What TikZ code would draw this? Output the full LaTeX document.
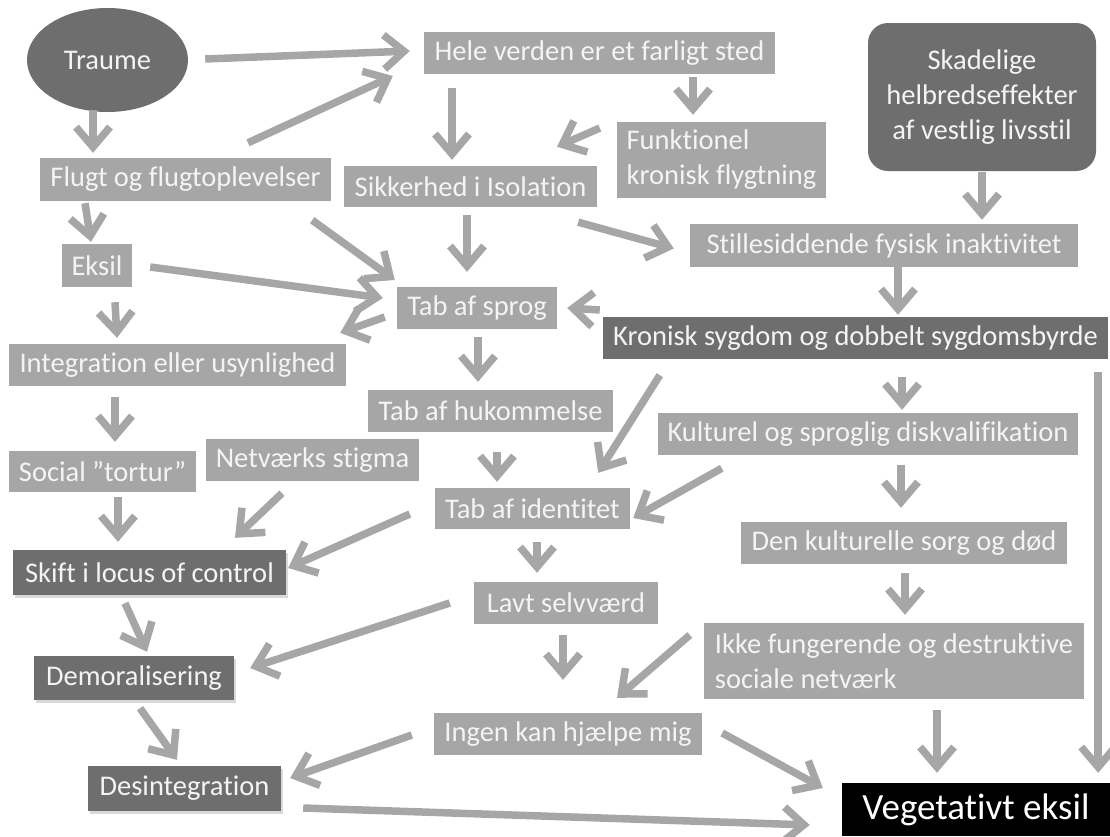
\documentclass[tikz,border=0pt]{standalone}
\usepackage{fontspec}
\setmainfont{Carlito}[Ligatures=NoCommon]
\usetikzlibrary{arrows.meta,shapes.geometric,shadows}
\definecolor{boxlight}{HTML}{A6A6A6}
\definecolor{boxdark}{HTML}{6E6E6E}
\definecolor{arrowgray}{HTML}{A6A6A6}
\definecolor{labeltext}{HTML}{F4F4F4}
\begin{document}
\begin{tikzpicture}[x=1pt,y=-1pt,
  lbox/.style={fill=boxlight, text=labeltext, inner sep=0pt, font=\fontsize{28.5}{35}\selectfont},
  dbox/.style={lbox, fill=boxdark},
  sbox/.style={dbox, drop shadow={shadow xshift=1.5pt, shadow yshift=-2.5pt, opacity=0.3}},
  sz/.style 2 args={minimum width=#1pt, minimum height=#2pt},
  arr/.style={draw=arrowgray, line width=7.5pt, -{Straight Barb[length=20pt,width=34pt]}},
]
\useasboundingbox (0,0) rectangle (1110,836);

% ---- nodes ----
\node[dbox, ellipse, sz={161}{104}] (traume) at (107.5,60) {Traume};
\node[lbox, sz={291}{43}] (flugt) at (185.5,179.5) {Flugt og flugtoplevelser};
\node[lbox, sz={351}{42}] (hele) at (599.5,53) {Hele verden er et farligt sted};
\node[lbox, sz={209}{76}, align=left] (funk) at (721.5,160) {Funktionel\\kronisk flygtning};
\node[lbox, sz={253}{41}] (sikker) at (470.5,186.5) {Sikkerhed i Isolation};
\node[dbox, rounded corners=20pt, sz={228}{148}, align=center] (skad) at (982,97) {Skadelige\\helbredseffekter\\af vestlig livsstil};
\node[lbox, sz={388}{43}] (still) at (884,245.5) {Stillesiddende fysisk inaktivitet};
\node[dbox, sz={505}{42}] (kron) at (855.5,338) {Kronisk sygdom og dobbelt sygdomsbyrde};
\node[lbox, sz={70}{43}] (eksil) at (97,265.5) {Eksil};
\node[lbox, sz={160}{42}] (sprog) at (477,308) {Tab af sprog};
\node[lbox, sz={337}{42}] (integ) at (177.5,365) {Integration eller usynlighed};
\node[lbox, sz={245}{42}] (huk) at (490.5,411) {Tab af hukommelse};
\node[lbox, sz={420}{42}] (kult) at (868,434) {Kulturel og sproglig diskvalifikation};
\node[lbox, sz={187}{41}] (social) at (102.5,471.5) {Social ”tortur”};
\node[lbox, sz={213}{42}] (netv) at (312.5,460) {Netværks stigma};
\node[lbox, sz={195}{41}] (ident) at (532.5,508.5) {Tab af identitet};
\node[lbox, sz={326}{42}] (sorg) at (904,543) {Den kulturelle sorg og død};
\node[sbox, sz={273}{45}] (skift) at (149.5,572.5) {Skift i locus of control};
\node[lbox, sz={184}{42}] (lavt) at (566,603) {Lavt selvværd};
\node[lbox, sz={380}{76}, align=left] (ikke) at (894,661) {Ikke fungerende og destruktive\\sociale netværk};
\node[sbox, sz={200}{44}] (demo) at (134,678) {Demoralisering};
\node[lbox, sz={268}{42}] (ingen) at (568,734) {Ingen kan hjælpe mig};
\node[sbox, sz={193}{45}] (desint) at (184.5,788.5) {Desintegration};
\node[fill=black, text=white, inner sep=0pt, font=\fontsize{37}{44}\selectfont, sz={268}{53}] (veg) at (976,809.5) {Vegetativt eksil};

% ---- connectors ----
\draw[arr] ([shift={(17,-1)}]traume.east) -- ([shift={(-14,-2)}]hele.west);
\draw[arr] ([shift={(-14.5,-2)}]traume.south) -- ([shift={(-92.5,-5)}]flugt.north);
\draw[arr] ([shift={(62.5,-15)}]flugt.north) -- ([shift={(-31,23)}]hele.west);
\draw[arr] ([shift={(-147.5,14)}]hele.south) -- ([shift={(-18.5,-6)}]sikker.north);
\draw[arr] ([shift={(93.5,3)}]hele.south) -- ([shift={(-28.5,-7)}]funk.north);
\draw[arr] ([shift={(-17,-32)}]funk.west) -- ([shift={(86.5,-19)}]sikker.north);
\draw[arr] ([shift={(0,1)}]skad.south) -- ([shift={(98,-4)}]still.north);
\draw[arr] ([shift={(-19,15)}]sikker.south east) -- ([shift={(-16,3)}]still.west);
\draw[arr] ([shift={(14,0)}]still.south) -- ([shift={(42.5,-2)}]kron.north);
\draw[arr] ([shift={(-3,-28)}]kron.west) -- ([shift={(10,0)}]sprog.east);
\draw[arr] ([shift={(-3.5,8)}]sikker.south) -- ([shift={(-10,-15)}]sprog.north);
\draw[arr] ([shift={(-19,19)}]flugt.south east) -- ([shift={(-2,-28)}]sprog.west);
\draw[arr] ([shift={(18,1.5)}]eksil.east) -- ([shift={(-14,-10)}]sprog.west);
\draw[arr] ([shift={(-12,9)}]sprog.west) -- ([shift={(-6,-11)}]integ.north east);
\draw[arr] ([shift={(1,8)}]sprog.south) -- ([shift={(-12.5,-8)}]huk.north);
\draw[arr] ([shift={(6.5,20)}]huk.south) -- ([shift={(-35.5,-6)}]ident.north);
\draw[arr] ([shift={(57,16)}]kron.south west) -- ([shift={(-32,-15)}]ident.north east);
\draw[arr] ([shift={(64,13)}]kult.south west) -- ([shift={(3,9.5)}]ident.east);
\draw[arr] ([shift={(46.5,18)}]kron.south) -- ([shift={(34,-3)}]kult.north);
\draw[arr] ([shift={(33,10)}]kult.south) -- ([shift={(-3,-14)}]sorg.north);
\draw[arr] ([shift={(-10,13)}]kron.south east) -- ([shift={(-12,-10)}]veg.north east);
\draw[arr] ([shift={(1,9)}]sorg.south) -- ([shift={(11,-8)}]ikke.north);
\draw[arr] ([shift={(43,11)}]ikke.south) -- ([shift={(-39,-10)}]veg.north);
\draw[arr] ([shift={(-14,-26)}]ikke.west) -- ([shift={(49,-15)}]ingen.north);
\draw[arr] ([shift={(-3,11)}]lavt.south) -- ([shift={(-5,-33)}]ingen.north);
\draw[arr] ([shift={(20,-1)}]ingen.east) -- ([shift={(-19,-21.5)}]veg.west);
\draw[arr] ([shift={(22,19.5)}]desint.east) -- ([shift={(-32,15.5)}]veg.west);
\draw[arr] ([shift={(-22,1)}]ingen.west) -- ([shift={(9,-10.5)}]desint.east);
\draw[arr] ([shift={(-24,0)}]lavt.west) -- ([shift={(16,-10)}]demo.east);
\draw[arr] ([shift={(4.5,13)}]ident.south) -- ([shift={(-29,-9)}]lavt.north);
\draw[arr] ([shift={(-25,5.5)}]ident.west) -- ([shift={(2,-4.5)}]skift.east);
\draw[arr] ([shift={(-30.5,12)}]netv.south) -- ([shift={(85.5,-12)}]skift.north);
\draw[arr] ([shift={(15.5,5)}]social.south) -- ([shift={(-31.5,-8)}]skift.north);
\draw[arr] ([shift={(-24.5,8)}]skift.south) -- ([shift={(13,-4)}]demo.north);
\draw[arr] ([shift={(6,8)}]demo.south) -- ([shift={(-7.5,-6)}]desint.north);
\draw[arr] ([shift={(-62.5,11)}]integ.south) -- ([shift={(12.5,-9)}]social.north);
\draw[arr] ([shift={(18,15)}]eksil.south) -- ([shift={(-60.5,-6)}]integ.north);
\draw[arr] ([shift={(-100.5,2)}]flugt.south) -- ([shift={(-6,-2)}]eksil.north);
\end{tikzpicture}
\end{document}
